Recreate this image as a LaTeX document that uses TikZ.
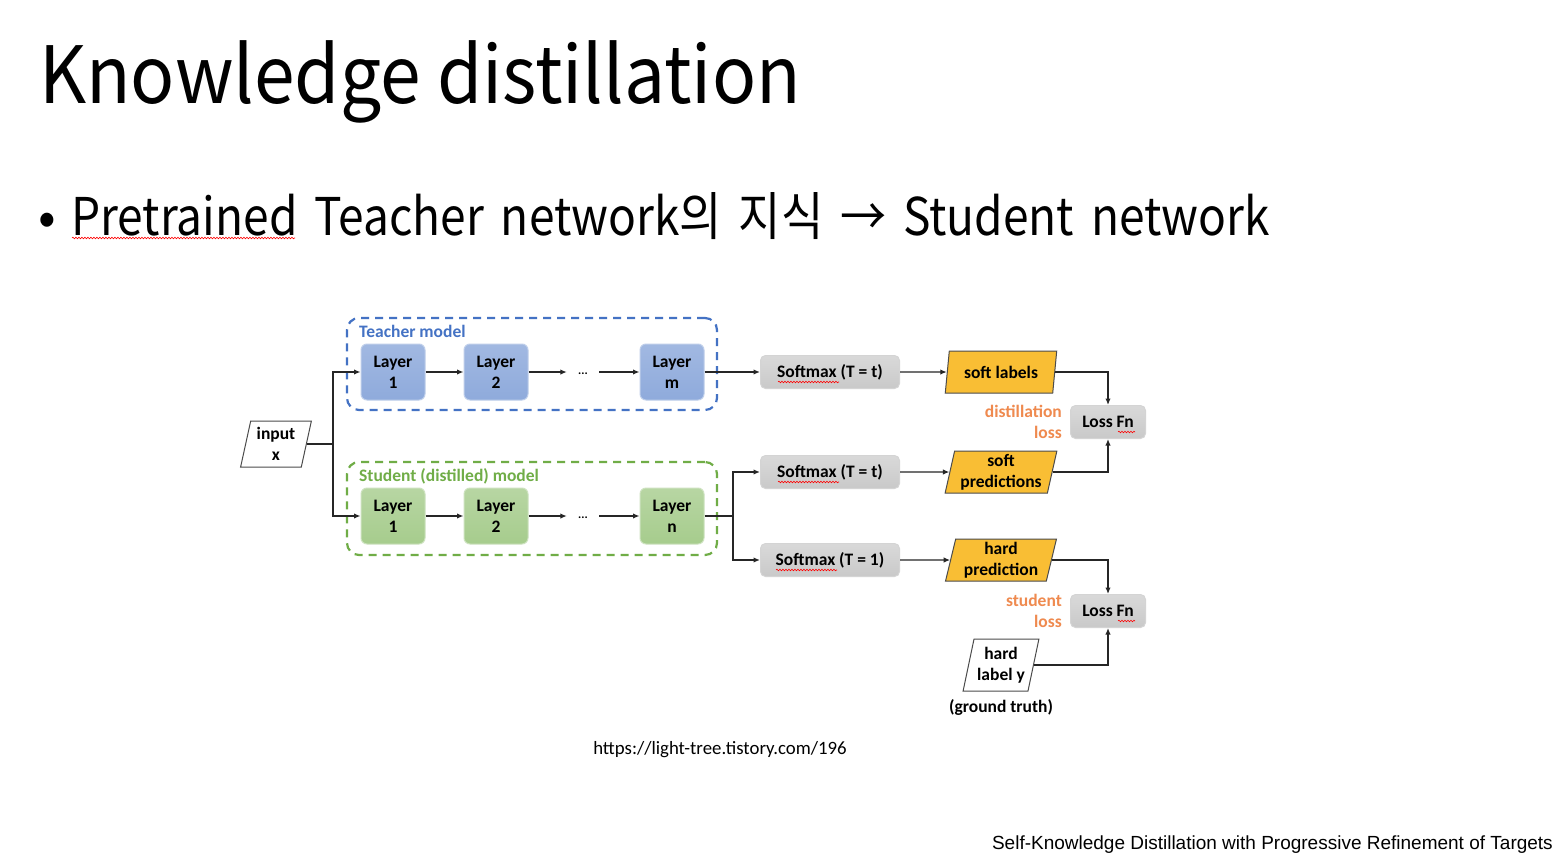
\documentclass[tikz,border=0pt]{standalone}
\usepackage{fontspec}
\usepackage{graphicx}
\setmainfont{Carlito}
\newfontfamily\krfont{Noto Sans CJK KR}
\newfontfamily\arialfont{Liberation Sans}
\usetikzlibrary{shapes.geometric,arrows.meta,decorations.pathmorphing}
\definecolor{tblue}{HTML}{4472C4}
\definecolor{sgreen}{HTML}{70AD47}
\definecolor{lossor}{HTML}{EF8A4F}
\definecolor{orfill}{HTML}{F9BE34}
\definecolor{grayfill}{HTML}{C9C9C9}
\newcommand{\bsp}{\hspace{19pt}}
\tikzset{
  diag/.style={font=\bfseries\fontsize{17.5}{21}\selectfont, align=center, inner sep=0pt},
  layerT/.style={diag, rounded corners=6pt, minimum width=64, minimum height=56, top color=tblue!50!white, bottom color=tblue!60!white, draw=tblue!35!white, line width=1},
  layerS/.style={diag, rounded corners=6pt, minimum width=64, minimum height=56, top color=sgreen!50!white, bottom color=sgreen!62!white, draw=sgreen!35!white, line width=1},
  softbox/.style={diag, rounded corners=5pt, minimum width=139, minimum height=33, top color=grayfill!70!white, bottom color=grayfill, draw=grayfill!80!white, line width=1},
  lossbox/.style={diag, rounded corners=5pt, minimum width=75, minimum height=33, top color=grayfill!70!white, bottom color=grayfill, draw=grayfill!80!white, line width=1},
  para/.style={diag, trapezium, trapezium left angle=77, trapezium right angle=103, trapezium stretches=true, draw=black!70, line width=1},
  opara/.style={para, fill=orfill, minimum width=112, minimum height=42},
  wpara/.style={para, fill=white},
  tbox/.style={draw=tblue, dash pattern=on 8pt off 6pt, line width=2.2, rounded corners=12pt, minimum width=370, minimum height=92},
  sbox/.style={draw=sgreen, dash pattern=on 8pt off 6pt, line width=2.2, rounded corners=12pt, minimum width=370, minimum height=93},
  line/.style={draw=black!85, line width=1.3},
  arr/.style={line, -{Latex[length=6.5pt,width=5.5pt]}},
  lossl/.style={diag, text=lossor, align=right, anchor=east},
  squig/.style={draw=red, line width=0.6, decorate, decoration={snake, amplitude=0.8pt, segment length=3pt}},
  dots/.style={font=\bfseries\fontsize{12}{12}\selectfont, inner sep=0pt, minimum width=32},
}
\begin{document}
\begin{tikzpicture}[x=1pt,y=-1pt]
\useasboundingbox[fill=white] (0,0) rectangle (1560,862);

% title and bullet
\node[anchor=base west, inner sep=0pt, font=\krfont\fontsize{79}{79}\selectfont] (title) at (39,103) {\scalebox{0.925}[1]{Knowledge distillation}};
\node[anchor=base west, inner sep=0pt, font=\krfont\fontsize{52}{52}\selectfont] (bul) at (38,235) {•};
\node[anchor=base west, inner sep=0pt, font=\krfont\fontsize{52}{52}\selectfont] (btext) at (71,235) {\scalebox{0.886}[1]{Pretrained\bsp Teacher\bsp network의\bsp 지식\bsp →\bsp Student\bsp network}};
\draw[squig] (72,238) -- (295,238);

% containers
\node[tbox] (tbox) at (532,364) {};
\node[sbox] (sbox) at (532,508.5) {};
\node[diag, text=tblue, anchor=west] (tlab) at (359,331) {Teacher model};
\node[diag, text=sgreen, anchor=west] (slab) at (359,476) {Student (distilled) model};

% input
\node[wpara, minimum width=71, minimum height=46] (in) at (276,444) {input\\x};
\coordinate (sp) at (333,444);

% teacher layers
\node[layerT] (t1) at (393,372) {Layer\\1};
\node[layerT] (t2) at (496,372) {Layer\\2};
\node[dots] (td) at (583,374) {...};
\node[layerT] (tm) at (672,372) {Layer\\m};

% student layers
\node[layerS] (s1) at (393,516) {Layer\\1};
\node[layerS] (s2) at (496,516) {Layer\\2};
\node[dots] (sd) at (583,518) {...};
\node[layerS] (sn) at (672,516) {Layer\\n};
\coordinate (sp2) at (733,516);

% softmax boxes
\node[softbox] (smt) at (830,372) {Softmax (T = t)};
\node[softbox] (sms) at (830,472) {Softmax (T = t)};
\node[softbox] (smh) at (830,560) {Softmax (T = 1)};
\draw[squig] (778,382) -- (839,382);
\draw[squig] (778,482) -- (839,482);
\draw[squig] (776,570) -- (837,570);

% outputs
\node[opara] (sl) at (1001,372) {soft labels};
\node[opara] (sp3) at (1001,472) {soft\\predictions};
\node[opara] (hp) at (1001,560) {hard\\prediction};
\node[wpara, minimum width=76, minimum height=52, trapezium left angle=75, trapezium right angle=105] (hl) at (1001,665) {hard\\label y};
\node[diag] (gt) at (1001,707) {(ground truth)};

% loss
\node[lossbox] (l1) at (1108,422) {Loss Fn};
\node[lossbox] (l2) at (1108,611) {Loss Fn};
\draw[squig] (1118,432) -- (1135,432);
\draw[squig] (1118,621) -- (1135,621);
\node[lossl] (dl) at (1062,422) {distillation\\loss};
\node[lossl] (stl) at (1062,611) {student\\loss};

% connectors
\draw[line] (in.east) -- (sp);
\draw[arr] (sp) |- (t1.west);
\draw[arr] (sp) |- (s1.west);
\draw[arr] (t1) -- (t2);
\draw[arr] (t2.east) -- (td.west |- t2.east);
\draw[arr] (td.east |- tm.west) -- (tm.west);
\draw[arr] (s1) -- (s2);
\draw[arr] (s2.east) -- (sd.west |- s2.east);
\draw[arr] (sd.east |- sn.west) -- (sn.west);
\draw[arr] (tm) -- (smt);
\draw[line] (sn) -- (sp2);
\draw[arr] (sp2) |- (sms.west);
\draw[arr] (sp2) |- (smh.west);
\draw[arr] (smt) -- (sl);
\draw[arr] (sms) -- (sp3);
\draw[arr] (smh) -- (hp);
\draw[arr] (sl.east) -| (l1.north);
\draw[arr] (sp3.east) -| (l1.south);
\draw[arr] (hp.east) -| (l2.north);
\draw[arr] (hl.east) -| (l2.south);

% url and footer
\node[font=\fontsize{18.8}{18.8}\selectfont, inner sep=0pt] (url) at (720,750) {https://light-tree.tistory.com/196};
\node[anchor=base east, inner sep=0pt, font=\arialfont\fontsize{19}{19}\selectfont] (foot) at (1553,849) {Self-Knowledge Distillation with Progressive Refinement of Targets};
\end{tikzpicture}
\end{document}
